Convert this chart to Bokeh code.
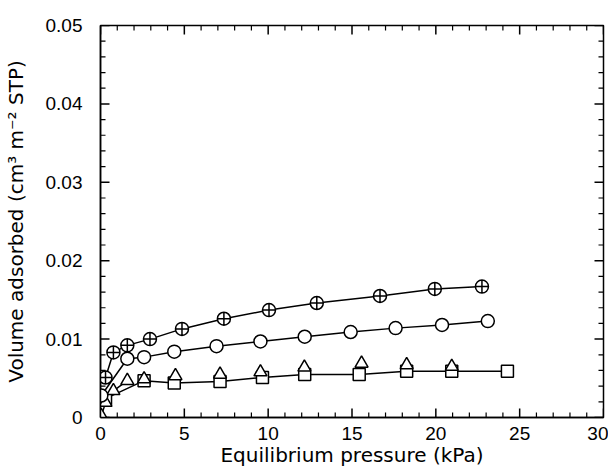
import math
from bokeh.plotting import figure
from bokeh.models import FixedTicker, Range1d
from bokeh.embed import file_html
from bokeh.resources import INLINE

# Data
plus_x = [0.3, 0.77, 1.6, 2.95, 4.86, 7.36, 10.05, 12.9, 16.67, 19.94, 22.75]
plus_y = [0.0051, 0.0083, 0.0092, 0.0100, 0.0113, 0.0126, 0.0137, 0.0146, 0.0155, 0.0164, 0.0167]

circ_x = [0.05, 1.6, 2.6, 4.4, 6.92, 9.54, 12.18, 14.92, 17.6, 20.37, 23.1]
circ_y = [0.0028, 0.0075, 0.0077, 0.0084, 0.0091, 0.0097, 0.0103, 0.0109, 0.0114, 0.0118, 0.0123]

tri_x = [0.05, 0.3, 0.77, 1.6, 2.6, 4.47, 7.13, 9.54, 12.16, 15.57, 18.26, 20.95]
tri_y = [0.0002, 0.0019, 0.0034, 0.0047, 0.0049, 0.0053, 0.0055, 0.0058, 0.0064, 0.0069, 0.0067, 0.0065]

sq_x = [0.3, 2.6, 4.4, 7.13, 9.66, 12.18, 15.43, 18.26, 20.95, 24.27]
sq_y = [0.0024, 0.0047, 0.0044, 0.0046, 0.0051, 0.0055, 0.0055, 0.0059, 0.0059, 0.0059]

x_ticks = [0, 5, 10, 15, 20, 25, 30]
x_labels = ["0", "5", "10", "15", "20", "25", "30"]
y_ticks = [0, 0.01, 0.02, 0.03, 0.04, 0.05]
y_labels = ["0", "0.01", "0.02", "0.03", "0.04", "0.05"]
x_minor = [float(v) for v in range(0, 31) if v % 5 != 0]
y_minor = [round(i * 0.002, 4) for i in range(0, 26) if i % 5 != 0]

X0, X1 = 0, 30
Y0, Y1 = 0, 0.05

FONT = "Liberation Sans"
TITLE_FONT = "DejaVu Sans"

W, H = 608, 476
BL, BR, BT, BB = 100, 5, 25, 59

p = figure(width=W, height=H, output_backend="svg", toolbar_location=None,
           x_range=Range1d(X0, X1), y_range=Range1d(Y0, Y1),
           min_border_left=BL, min_border_right=BR, min_border_top=BT, min_border_bottom=BB)
p.background_fill_color = "white"
p.border_fill_color = "white"
p.grid.visible = False
p.outline_line_color = "black"
p.outline_line_width = 1.5

for ax, ticks, labels in ((p.xaxis[0], x_ticks, x_labels), (p.yaxis[0], y_ticks, y_labels)):
    ax.ticker = FixedTicker(ticks=ticks, minor_ticks=[])
    ax.major_label_overrides = {t: l for t, l in zip(ticks, labels)}
    ax.major_tick_in = 0
    ax.major_tick_out = 0
    ax.minor_tick_in = 0
    ax.minor_tick_out = 0
    ax.axis_line_width = 1.5
    ax.axis_line_color = "black"
    ax.major_label_text_font = FONT
    ax.major_label_text_font_size = "19px"
    ax.major_label_text_color = "black"
    ax.axis_label_text_font = TITLE_FONT
    ax.axis_label_text_font_size = "20px"
    ax.axis_label_text_font_style = "normal"
    ax.axis_label_text_color = "black"

p.xaxis[0].axis_label = "Equilibrium pressure (kPa)"
p.yaxis[0].axis_label = "Volume adsorbed (cm³ m⁻² STP)"
p.xaxis[0].major_label_standoff = 9
p.yaxis[0].major_label_standoff = 18
p.xaxis[0].axis_label_standoff = 0
p.yaxis[0].axis_label_standoff = 15

# inward ticks on all four sides, drawn as segments (length converted from pixels)
fw = W - BL - BR
fh = H - BT - BB
dx_maj, dx_min = 9 * (X1 - X0) / fw, 5 * (X1 - X0) / fw
dy_maj, dy_min = 9 * (Y1 - Y0) / fh, 5 * (Y1 - Y0) / fh
TC = "black"
def xticks(xs, d, lw):
    n = len(xs)
    p.segment(xs, [Y0] * n, xs, [Y0 + d] * n, line_color=TC, line_width=lw)
    p.segment(xs, [Y1] * n, xs, [Y1 - d] * n, line_color=TC, line_width=lw)
def yticks(ys, d, lw):
    n = len(ys)
    p.segment([X0] * n, ys, [X0 + d] * n, ys, line_color=TC, line_width=lw)
    p.segment([X1] * n, ys, [X1 - d] * n, ys, line_color=TC, line_width=lw)
xticks(x_ticks, dy_maj, 1.5)
xticks(x_minor, dy_min, 1.2)
yticks(y_ticks, dx_maj, 1.5)
yticks(y_minor, dx_min, 1.2)

lw = 1.5
p.line(plus_x, plus_y, line_color="black", line_width=lw)
p.line(circ_x, circ_y, line_color="black", line_width=lw)
p.line(sq_x, sq_y, line_color="black", line_width=lw)
p.line(tri_x[:4], tri_y[:4], line_color="black", line_width=lw)

ms = 13
p.scatter(sq_x, sq_y, marker="square", size=ms - 1, fill_color="white", line_color="black", line_width=lw)
p.scatter(tri_x, tri_y, marker="triangle", size=ms, fill_color="white", line_color="black", line_width=lw)
p.scatter(circ_x, circ_y, marker="circle", size=ms, fill_color="white", line_color="black", line_width=lw)
p.scatter(plus_x, plus_y, marker="circle_cross", size=ms, fill_color="white", line_color="black", line_width=lw)

open("out.html", "w").write(file_html(p, INLINE))
